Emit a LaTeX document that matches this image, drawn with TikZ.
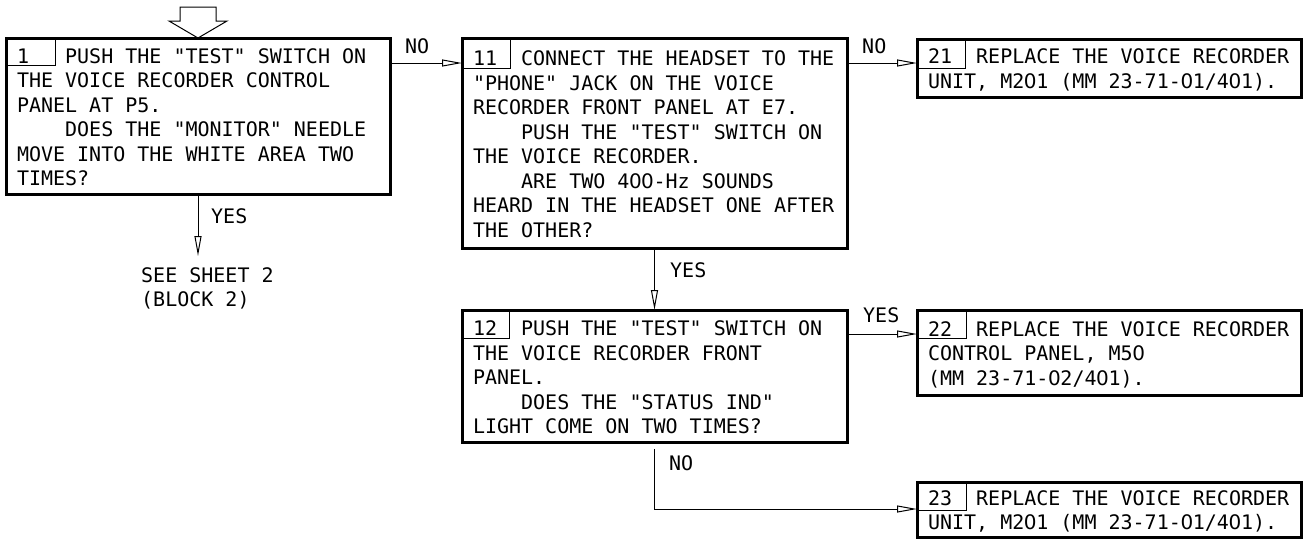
\documentclass[tikz,border=0pt]{standalone}
\usepackage{fontspec}
\usetikzlibrary{arrows.meta}
\newfontfamily\cadfont{DejaVu Sans Mono}
\newfontfamily\zerofont{DejaVu Sans}
\newcommand\Z{\makebox[0.602em]{\zerofont 0}}
\newcommand\lead[1]{\rlap{#1}\hphantom{0000}}
\newcommand\ind{\hphantom{0000}}
\newcommand\topstrut{\rule{0pt}{19pt}}
\newcommand\botstrut{\rule[-2pt]{0pt}{2pt}}
\newcommand\monosp{\spaceskip=0.602em plus 0pt minus 0pt\relax
  \xspaceskip=0.602em plus 0pt minus 0pt\relax}
\newcommand\cadsize{\cadfont\fontsize{20}{24.5}\selectfont\frenchspacing}
\begin{document}
\begin{tikzpicture}[x=1pt,y=-1pt,
  txt/.style={font=\cadsize},
  box/.style={txt, draw, line width=3pt, inner xsep=11pt, inner ysep=0pt,
    outer sep=0pt, anchor=north west, align=left},
  hdr/.style={draw, line width=1pt},
  arr/.style={draw, line width=1pt, -{Triangle[open, length=20pt, width=7pt]}},
  lbl/.style={txt, anchor=base west, inner sep=0pt},
  inarrow/.style={draw, line width=1pt, line join=miter}]
\useasboundingbox (0,0) rectangle (1304,542);

% boxes
\node[box, minimum width=384pt, minimum height=156pt, text width=362pt] (b1) at (6,38)
 {\monosp\topstrut\lead{1}PUSH THE "TEST" SWITCH ON\\
  THE VOICE RECORDER CONTROL\\
  PANEL AT P5.\\
  \ind DOES THE "MONITOR" NEEDLE\\
  MOVE INTO THE WHITE AREA TWO\\
  TIMES?\botstrut};
\node[box, minimum width=385pt, minimum height=210pt, text width=363pt] (b11) at (462,38)
 {\monosp\topstrut\lead{11}CONNECT THE HEADSET TO THE\\
  "PHONE" JACK ON THE VOICE\\
  RECORDER FRONT PANEL AT E7.\\
  \ind PUSH THE "TEST" SWITCH ON\\
  THE VOICE RECORDER.\\
  \ind ARE TWO 4\Z\Z-Hz SOUNDS\\
  HEARD IN THE HEADSET ONE AFTER\\
  THE OTHER?\botstrut};
\node[box, minimum width=384pt, minimum height=58pt, text width=362pt] (b21) at (917,39)
 {\monosp\topstrut\lead{21}REPLACE THE VOICE RECORDER\\
  UNIT, M2\Z1 (MM 23-71-\Z1/4\Z1).\botstrut};
\node[box, minimum width=385pt, minimum height=132pt, text width=363pt] (b12) at (462,310)
 {\monosp\topstrut\lead{12}PUSH THE "TEST" SWITCH ON\\
  THE VOICE RECORDER FRONT\\
  PANEL.\\
  \ind DOES THE "STATUS IND"\\
  LIGHT COME ON TWO TIMES?\botstrut};
\node[box, minimum width=384pt, minimum height=85pt, text width=362pt] (b22) at (917,310)
 {\monosp\topstrut\lead{22}REPLACE THE VOICE RECORDER\\
  CONTROL PANEL, M5\Z\\
  (MM 23-71-\Z2/4\Z1).\botstrut};
\node[box, minimum width=384pt, minimum height=55pt, text width=362pt] (b23) at (917,482)
 {\monosp\topstrut\lead{23}REPLACE THE VOICE RECORDER\\
  UNIT, M2\Z1 (MM 23-71-\Z1/4\Z1).\botstrut};

% number headers
\draw[hdr] (b1.north west) rectangle ++(49,27);
\draw[hdr] (b11.north west) rectangle ++(48,30);
\draw[hdr] (b21.north west) rectangle ++(48,29);
\draw[hdr] (b12.north west) rectangle ++(47,28);
\draw[hdr] (b22.north west) rectangle ++(49,28);
\draw[hdr] (b23.north west) rectangle ++(49,28);

% entry arrow
\draw[inarrow] (b1.north) ++(-18,-31) -- ++(36,0) -- ++(0,14) -- ++(11,0)
  -- (b1.north) -- ++(-29,-17) -- ++(11,0) -- cycle;

% see sheet
\coordinate (y1) at (b1.south |- 0,256);
\node[txt, anchor=north west, align=left, inner sep=0pt] (see) at (141,267)
 {SEE SHEET 2\\(BLOCK 2)};

% connectors
\draw[arr] ([yshift=-25pt]b1.north east) -- ([yshift=-25pt]b11.north west);
\draw[arr] ([yshift=-25pt]b11.north east) -- ([yshift=-24pt]b21.north west);
\draw[arr] (b11.south) -- (b12.north);
\draw[arr] ([yshift=-24pt]b12.north east) -- ([yshift=-24pt]b22.north west);
\coordinate (n12) at ([yshift=-7pt]b12.south);
\draw[arr] (n12) |- ([yshift=-27pt]b23.north west);
\draw[arr] (b1.south) -- (y1);

% labels
\node[lbl] (l1) at (405,53) {NO};
\node[lbl] (l2) at (862,53) {NO};
\node[lbl] (l3) at (670,277) {YES};
\node[lbl] (l4) at (863,322) {YES};
\node[lbl] (l5) at (669,470) {NO};
\node[lbl] (l6) at (211,223) {YES};
\end{tikzpicture}
\end{document}
